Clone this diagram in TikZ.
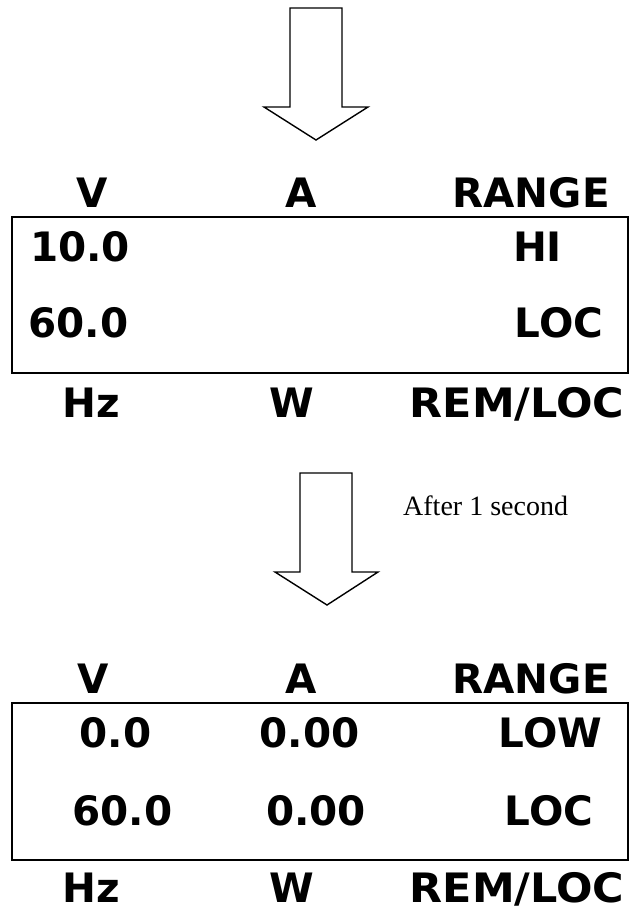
\documentclass[tikz,border=0pt]{standalone}
\usepackage{fontspec}
\setmainfont{DejaVu Sans}
\newfontfamily\noteserif{Liberation Serif}
\begin{document}
\begin{tikzpicture}[x=1pt,y=-1pt,
  big/.style={font=\fontsize{40.5}{48}\selectfont\bfseries, anchor=base, inner sep=0pt},
  note/.style={font=\noteserif\fontsize{28}{32}\selectfont, anchor=base west, inner sep=0pt},
  panel/.style={draw=black, line width=2pt},
  blockarrow/.style={draw=black, line width=1.4pt, line join=miter, fill=white}]
\useasboundingbox (0,0) rectangle (629,907);

% first arrow
\draw[blockarrow] (290,8) -- (342,8) -- (342,107) -- (368,107) -- (316,140) -- (264,107) -- (290,107) -- cycle;

% first panel
\node[big] (v1) at (92,207) {V};
\node[big] (a1) at (301,207) {A};
\node[big] (r1) at (531,207) {RANGE};
\draw[panel] (12,217) rectangle (628,373);
\node[big] (n10) at (80,261) {10.0};
\node[big] (hi) at (537.5,261) {HI};
\node[big] (n60a) at (78.5,337) {60.0};
\node[big] (loc1) at (559,337) {LOC};
\node[big] (hz1) at (91.5,417) {Hz};
\node[big] (w1) at (292,417) {W};
\node[big, xscale=1.06] (rl1) at (517,417) {REM/LOC};

% second arrow
\draw[blockarrow] (300,473) -- (352,473) -- (352,572) -- (378,572) -- (327,605) -- (275,572) -- (300,572) -- cycle;
\node[note] (after) at (403,515) {After 1 second};

% second panel
\node[big] (v2) at (93,693) {V};
\node[big] (a2) at (301,693) {A};
\node[big] (r2) at (531,693) {RANGE};
\draw[panel] (12,703) rectangle (628,860);
\node[big] (n00) at (115.5,747) {0.0};
\node[big] (a00a) at (309.5,747) {0.00};
\node[big] (low) at (550.5,747) {LOW};
\node[big] (n60b) at (122.5,825) {60.0};
\node[big] (a00b) at (316,825) {0.00};
\node[big] (loc2) at (549,825) {LOC};
\node[big] (hz2) at (91.5,902) {Hz};
\node[big] (w2) at (292,902) {W};
\node[big, xscale=1.06] (rl2) at (517,902) {REM/LOC};
\end{tikzpicture}
\end{document}
